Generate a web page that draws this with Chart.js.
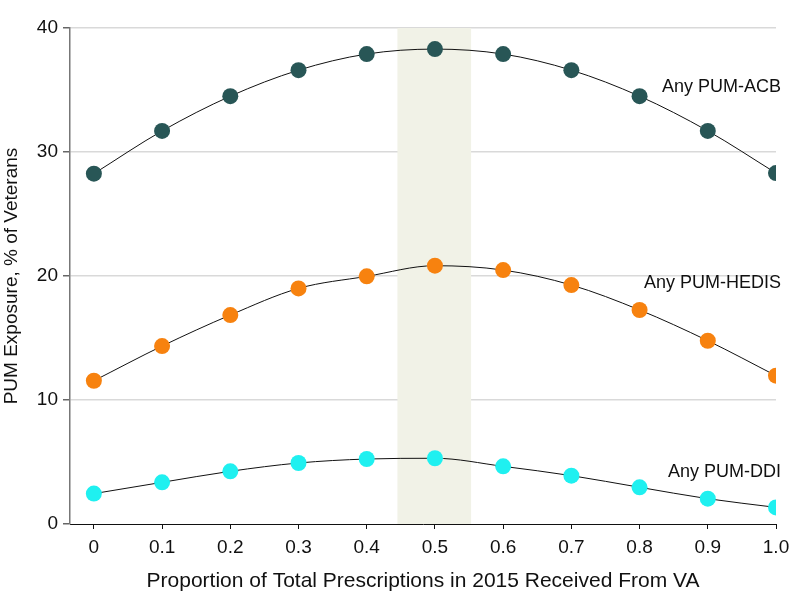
<!DOCTYPE html>
<html>
<head>
<meta charset="utf-8">
<script src="https://cdn.jsdelivr.net/npm/chart.js@4"></script>
<style>
html,body{margin:0;padding:0;background:#fff;}
#wrap{width:798px;height:609px;}
</style>
</head>
<body>
<div id="wrap"><canvas id="c" width="798" height="609"></canvas></div>
<script>
const xValues = [0, 0.1, 0.2, 0.3, 0.4, 0.5, 0.6, 0.7, 0.8, 0.9, 1.0];
const xTickLabels = ["0", "0.1", "0.2", "0.3", "0.4", "0.5", "0.6", "0.7", "0.8", "0.9", "1.0"];
const yTicks = [0, 10, 20, 30, 40];
const acb = [28.25, 31.7, 34.5, 36.6, 37.9, 38.3, 37.9, 36.6, 34.5, 31.7, 28.3];
const hedis = [11.55, 14.35, 16.85, 19.0, 19.97, 20.83, 20.48, 19.27, 17.26, 14.78, 11.96];
const ddi = [2.45, 3.36, 4.25, 4.92, 5.24, 5.3, 4.65, 3.9, 2.96, 2.04, 1.34];
const seriesNames = ["Any PUM-ACB", "Any PUM-HEDIS", "Any PUM-DDI"];
const labelYValues = [35.2, 19.4, 4.2];
const band = [0.445, 0.553];

const FONT = "'Liberation Sans', Arial, sans-serif";
const colors = ['#285656', '#f7820f', '#1ff0f0'];

function pts(arr){ return xValues.map((x,i)=>({x:x, y:arr[i]})); }

const bandPlugin = {
  id:'band',
  beforeDatasetsDraw(chart){
    const {ctx, chartArea, scales:{x}} = chart;
    const l = x.getPixelForValue(band[0]), r = x.getPixelForValue(band[1]);
    ctx.save();
    ctx.fillStyle = '#f1f2e7';
    ctx.fillRect(l, chartArea.top, r-l, chartArea.bottom-chartArea.top);
    ctx.restore();
  }
};
const labelPlugin = {
  id:'seriesLabels',
  afterDatasetsDraw(chart){
    const {ctx, chartArea, scales:{y}} = chart;
    ctx.save();
    ctx.font = "18px " + FONT;
    ctx.fillStyle = '#111';
    ctx.textAlign = 'right';
    ctx.textBaseline = 'middle';
    seriesNames.forEach((n,i)=>{
      ctx.fillText(n, chartArea.right + 5, y.getPixelForValue(labelYValues[i]));
    });
    ctx.restore();
  }
};

function ds(arr, i){
  return {
    data: pts(arr),
    borderColor:'#111',
    borderWidth:1,
    pointBackgroundColor: colors[i],
    pointBorderColor: colors[i],
    pointBorderWidth:0,
    pointRadius:8,
    cubicInterpolationMode:'monotone',
    fill:false
  };
}

new Chart(document.getElementById('c'), {
  type:'line',
  data:{ datasets:[ds(acb,0), ds(hedis,1), ds(ddi,2)] },
  options:{
    responsive:false,
    animation:false,
    events:[],
    layout:{ padding:{ left:0, right:22, top:28, bottom:0 } },
    plugins:{ legend:{display:false}, tooltip:{enabled:false} },
    scales:{
      x:{
        type:'linear',
        min:-0.035, max:1.0,
        afterBuildTicks(s){ s.ticks = xValues.map(v=>({value:v})); },
        afterFit(s){ s.height = 85; },
        ticks:{
          callback(v){ const i = xValues.indexOf(v); return i>=0 ? xTickLabels[i] : ''; },
          font:{ family:FONT, size:19 }, color:'#111', padding:7, maxRotation:0, autoSkip:false
        },
        grid:{ drawOnChartArea:false, drawTicks:true, tickLength:5, tickColor:'#111' },
        border:{ color:'#111', width:1 },
        title:{ display:true, text:'Proportion of Total Prescriptions in 2015 Received From VA',
          font:{ family:FONT, size:21 }, color:'#111', padding:{top:0,bottom:15} }
      },
      y:{
        min:0, max:40,
        afterBuildTicks(s){ s.ticks = yTicks.map(v=>({value:v})); },
        afterFit(s){ s.width = 70; },
        ticks:{ font:{ family:FONT, size:19 }, color:'#111', padding:5 },
        grid:{ color:(c)=> c.tick && c.tick.value===0 ? 'rgba(0,0,0,0)' : '#d9d9d9', lineWidth:1.5, drawTicks:true, tickLength:7, tickColor:'#666' },
        border:{ color:'#777', width:1.5 },
        title:{ display:true, text:'PUM Exposure, % of Veterans',
          font:{ family:FONT, size:19 }, color:'#111', padding:{top:0,bottom:0} }
      }
    }
  },
  plugins:[bandPlugin, labelPlugin]
});
</script>
</body>
</html>
